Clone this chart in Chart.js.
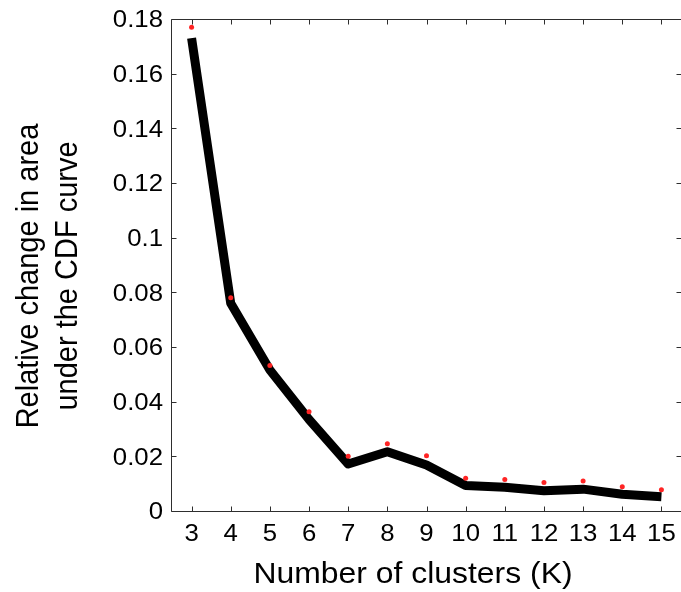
<!DOCTYPE html>
<html>
<head>
<meta charset="utf-8">
<script src="https://cdn.jsdelivr.net/npm/chart.js@4.4.0/dist/chart.umd.min.js"></script>
<style>
  html,body{margin:0;padding:0;background:#fff;}
  #wrap{width:681px;height:592px;position:relative;}
</style>
</head>
<body>
<div id="wrap"><canvas id="c"></canvas></div>
<script>
/* ===== Data ===== */
const kValues      = [3, 4, 5, 6, 7, 8, 9, 10, 11, 12, 13, 14, 15];
const curveValues  = [0.1730, 0.0760, 0.0516, 0.0335, 0.0172, 0.0217, 0.0168, 0.0093, 0.0087, 0.0074, 0.0080, 0.0061, 0.0052];
const markerValues = [0.1770, 0.0780, 0.0532, 0.0363, 0.0200, 0.0246, 0.0202, 0.0120, 0.0115, 0.0104, 0.0110, 0.0089, 0.0078];
const yTicks = [0, 0.02, 0.04, 0.06, 0.08, 0.1, 0.12, 0.14, 0.16, 0.18];
const xTitle = 'Number of clusters (K)';
const yTitle = ['Relative change in area', 'under the CDF curve'];

/* ===== Helpers ===== */
const FONT = '"Liberation Sans", Arial, sans-serif';
function stretchText(ctx, s, x, y, align, base, sx){
  ctx.save(); ctx.translate(x, y); ctx.scale(sx, 1);
  ctx.textAlign = align; ctx.textBaseline = base; ctx.fillText(s, 0, 0);
  ctx.restore();
}

// MATLAB-like box: frame, inward ticks on all sides, stretched labels
const boxAxes = {
  id: 'boxAxes',
  afterDraw(chart){
    const {ctx, chartArea:a, scales:{x, y}} = chart;
    const L = a.left - 0.5, R = a.right + 0.5, T = a.top + 0.5, B = a.bottom + 0.5, tl = 5;
    ctx.save();
    ctx.strokeStyle = '#2e2e2e'; ctx.lineWidth = 1;
    ctx.beginPath();
    ctx.moveTo(L, T); ctx.lineTo(R, T); ctx.lineTo(R, B); ctx.lineTo(L, B); ctx.closePath();
    x.ticks.forEach(t => { const px = Math.round(x.getPixelForValue(t.value)) + 0.5;
      ctx.moveTo(px, B); ctx.lineTo(px, B - tl); ctx.moveTo(px, T); ctx.lineTo(px, T + tl); });
    y.ticks.forEach(t => { const py = Math.round(y.getPixelForValue(t.value)) + 0.5;
      ctx.moveTo(L, py); ctx.lineTo(L + tl, py); ctx.moveTo(R, py); ctx.lineTo(R - tl, py); });
    ctx.stroke();

    ctx.fillStyle = '#000';
    ctx.font = '23px ' + FONT;
    y.ticks.forEach(t => stretchText(ctx, t.label, a.left - 9, y.getPixelForValue(t.value) + 2, 'right', 'middle', 1.12));
    x.ticks.forEach(t => stretchText(ctx, t.label, x.getPixelForValue(t.value), a.bottom + 30, 'center', 'alphabetic', 1.12));

    ctx.font = '29px ' + FONT;
    stretchText(ctx, xTitle, 413, 583, 'center', 'alphabetic', 1.1);

    ctx.save();
    ctx.translate(0, 276); ctx.rotate(-Math.PI / 2); ctx.scale(1, 1.1);
    ctx.textAlign = 'center'; ctx.textBaseline = 'alphabetic';
    ctx.fillText(yTitle[0], 0, 38 / 1.1);
    ctx.fillText(yTitle[1], 0, 77 / 1.1);
    ctx.restore();
    ctx.restore();
  }
};

/* ===== Chart ===== */
new Chart(document.getElementById('c'), {
  type: 'line',
  data: {
    datasets: [
      { label: 'markers', data: kValues.map((k, i) => ({x: k, y: markerValues[i]})),
        showLine: false, pointRadius: 2.5, pointBackgroundColor: '#ff2424', pointBorderWidth: 0, order: 0 },
      { label: 'curve', data: kValues.map((k, i) => ({x: k, y: curveValues[i]})),
        borderColor: '#000', borderWidth: 9, pointRadius: 0, tension: 0,
        borderJoinStyle: 'round', borderCapStyle: 'butt', order: 1 }
    ]
  },
  options: {
    responsive: true, maintainAspectRatio: false, animation: false,
    layout: { autoPadding: false, padding: { top: 19, right: 0, left: 0, bottom: 0 } },
    plugins: { legend: { display: false }, tooltip: { enabled: false } },
    scales: {
      x: { type: 'linear', min: 2.5, max: 15.5,
        afterBuildTicks: s => { s.ticks = kValues.map(v => ({value: v})); },
        ticks: { display: false, callback: v => String(v) },
        grid: { display: false }, border: { display: false },
        afterFit: s => { s.height = 81; } },
      y: { min: 0, max: 0.18,
        afterBuildTicks: s => { s.ticks = yTicks.map(v => ({value: v})); },
        ticks: { display: false, callback: v => String(+v.toFixed(2)) },
        grid: { display: false }, border: { display: false },
        afterFit: s => { s.width = 172; } }
    }
  },
  plugins: [boxAxes]
});
</script>
</body>
</html>
